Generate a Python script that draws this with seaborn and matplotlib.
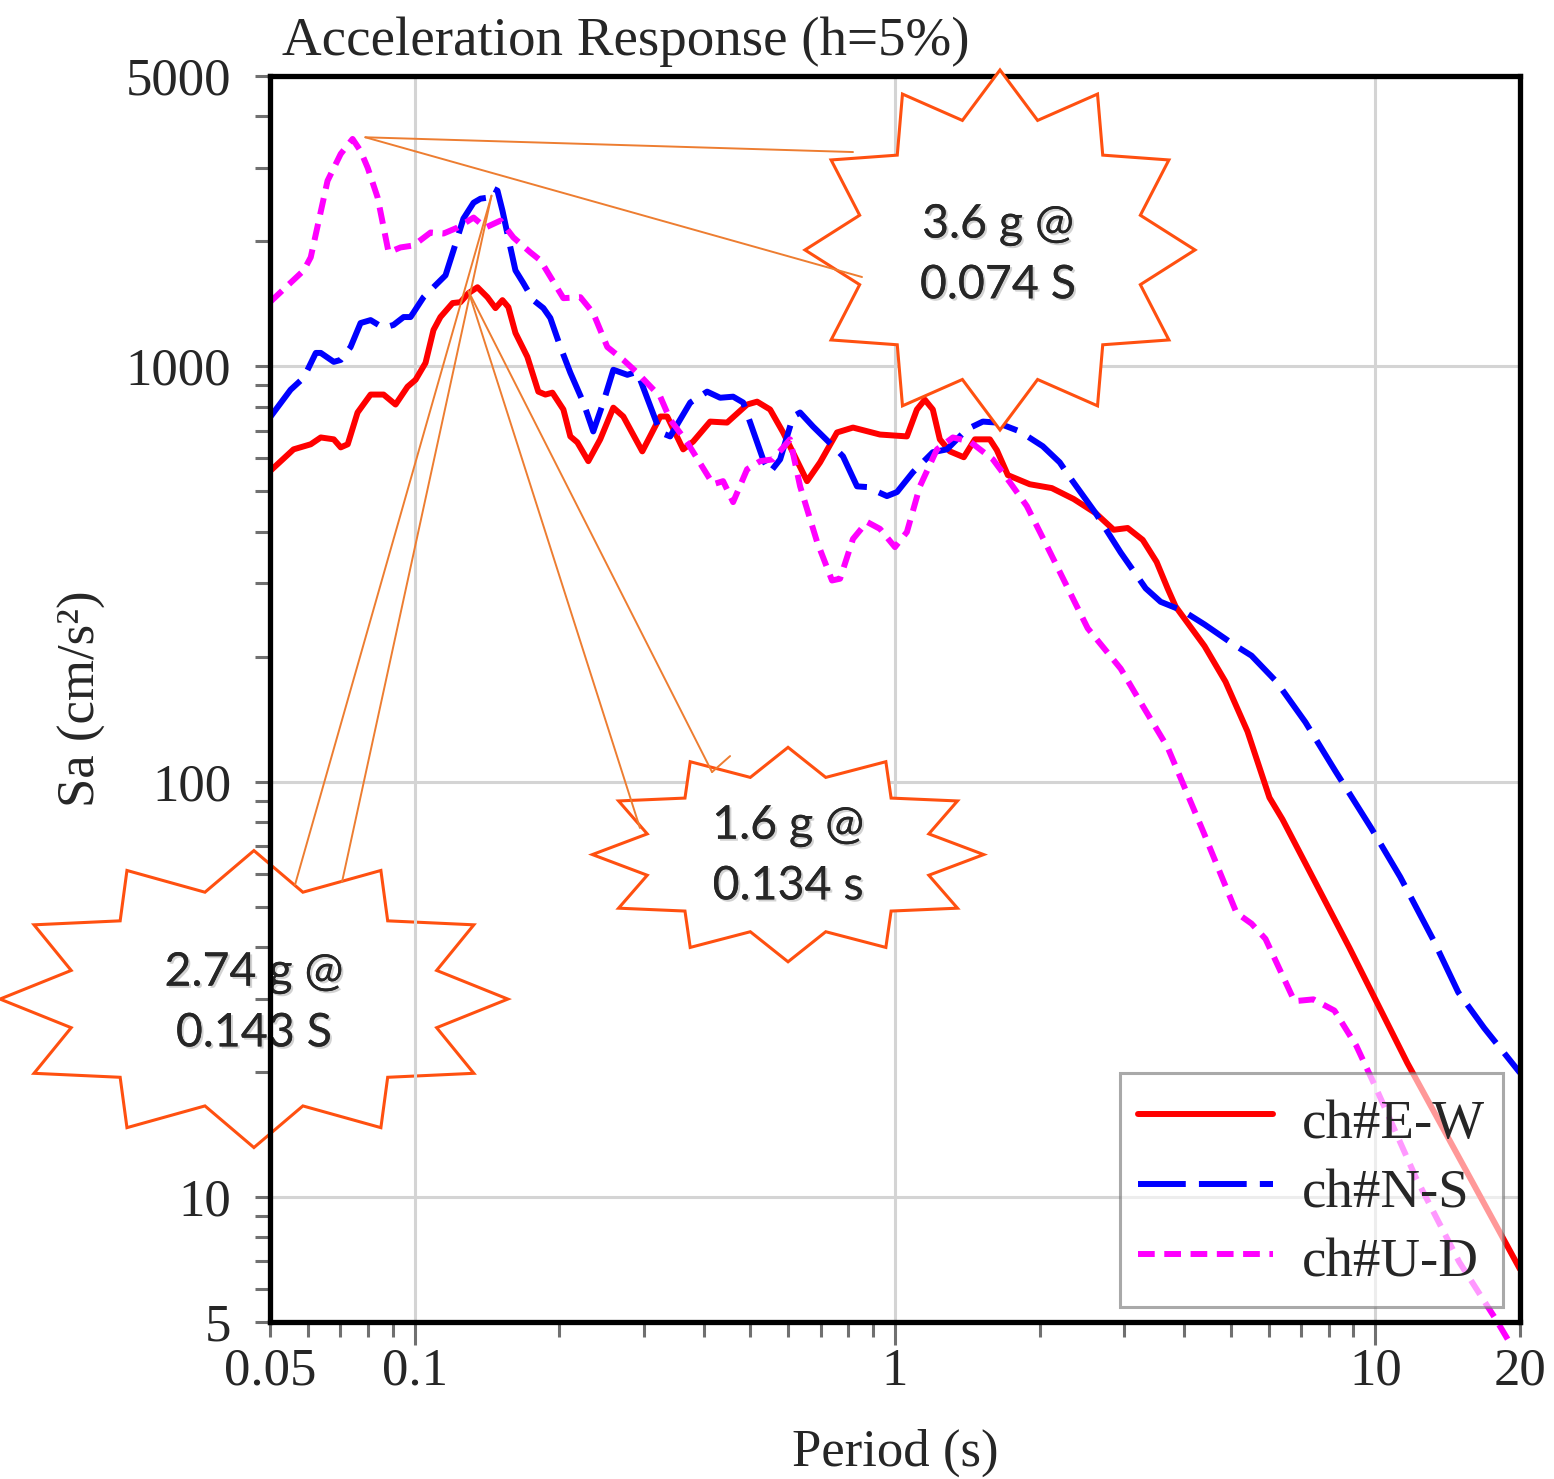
import numpy as np
import pandas as pd
import matplotlib
matplotlib.use("Agg")
import matplotlib.pyplot as plt
import matplotlib.patheffects as pe
from matplotlib.patches import Polygon, ConnectionPatch
from matplotlib.ticker import FixedLocator, NullFormatter
import seaborn as sns

# ---- data (period in s, Sa in cm/s^2) ----
CHANNELS = ["ch#E-W", "ch#N-S", "ch#U-D"]

ew_period = [0.050, 0.056, 0.0608, 0.0638, 0.0679, 0.0702, 0.0726, 0.0761, 0.081, 0.0862,
             0.0913, 0.0967, 0.1005, 0.1054, 0.1095, 0.1132, 0.12, 0.1246, 0.1295, 0.1352,
             0.1418, 0.1474, 0.1524, 0.1568, 0.1622, 0.1717, 0.181, 0.1872, 0.1936, 0.2041,
             0.211, 0.2182, 0.23, 0.2435, 0.2593, 0.272, 0.2979, 0.3247, 0.3357, 0.3624,
             0.3802, 0.4124, 0.4473, 0.4923, 0.5165, 0.5497, 0.5851, 0.6562, 0.6984, 0.7576,
             0.8178, 0.9308, 1.059, 1.111, 1.154, 1.199, 1.24, 1.301, 1.391, 1.467,
             1.576, 1.63, 1.718, 1.908, 2.121, 2.356, 2.617, 2.853, 3.051, 3.279,
             3.505, 3.694, 3.839, 4.41, 4.876, 5.419, 6.02, 6.408, 8.831, 11.66, 20.0]
ew_sa = [559, 631, 649, 674, 667, 638, 649, 774, 855, 855,
         809, 893, 928, 1019, 1223, 1314, 1420, 1427, 1500, 1550,
         1467, 1381, 1443, 1388, 1203, 1054, 869, 855, 864, 787,
         678, 656, 591, 667, 795, 757, 624, 757, 757, 631,
         659, 736, 732, 809, 822, 787, 693, 529, 587, 693,
         712, 685, 678, 787, 831, 787, 667, 624, 604, 667,
         667, 628, 547, 520, 509, 479, 443, 404, 408, 382,
         338, 292, 264, 212, 174, 132, 91.5, 81.1, 39.8, 21.0, 6.7]

ns_period = [0.050, 0.0552, 0.0588, 0.0623, 0.0638, 0.0679, 0.0702, 0.0736, 0.0772, 0.081,
             0.0862, 0.0904, 0.0949, 0.0981, 0.1044, 0.1095, 0.116, 0.1205, 0.1264, 0.1327,
             0.1372, 0.1418, 0.146, 0.1488, 0.1524, 0.1583, 0.1622, 0.1685, 0.1767, 0.1854,
             0.1917, 0.2012, 0.211, 0.2246, 0.2355, 0.2471, 0.2593, 0.2773, 0.2908, 0.3247,
             0.3405, 0.3749, 0.4065, 0.4327, 0.4604, 0.4831, 0.5316, 0.5497, 0.5768, 0.6137,
             0.6347, 0.6754, 0.7433, 0.7796, 0.8338, 0.8745, 0.9624, 1.01, 1.09, 1.199,
             1.283, 1.411, 1.524, 1.63, 1.819, 2.031, 2.203, 2.311, 2.617, 2.951,
             3.326, 3.573, 3.97, 4.41, 5.067, 5.524, 6.226, 7.152, 8.257, 9.81,
             11.27, 13.2, 14.88, 16.85, 20.0]
ns_sa = [753, 878, 939, 1077, 1077, 1025, 1036, 1113, 1271, 1292,
         1237, 1258, 1314, 1314, 1467, 1550, 1656, 1901, 2268, 2477,
         2533, 2547, 2677, 2648, 2371, 1933, 1702, 1585, 1443, 1381,
         1307, 1113, 965, 818, 697, 818, 981, 954, 970, 693,
         678, 818, 869, 840, 845, 818, 597, 556, 597, 757,
         774, 716, 642, 607, 514, 512, 487, 498, 556, 621,
         631, 705, 736, 732, 697, 642, 587, 541, 443, 356,
         292, 271, 258, 239, 214, 201, 174, 139, 106, 77.2,
         58.9, 41.6, 31.1, 25.5, 19.9]

ud_period = [0.050, 0.0588, 0.0608, 0.0659, 0.0702, 0.0743, 0.0772, 0.0799, 0.0838, 0.0883,
             0.0935, 0.0995, 0.108, 0.1149, 0.1229, 0.1327, 0.1405, 0.151, 0.1606, 0.1742,
             0.1828, 0.2041, 0.2214, 0.2355, 0.2519, 0.272, 0.2908, 0.3247, 0.3405, 0.3694,
             0.4183, 0.4388, 0.4604, 0.4923, 0.524, 0.5576, 0.6048, 0.6347, 0.6884, 0.7396,
             0.7687, 0.8178, 0.8745, 0.9308, 1.0, 1.059, 1.127, 1.223, 1.32, 1.432,
             1.599, 1.734, 1.881, 2.07, 2.203, 2.519, 2.951, 3.216, 3.694, 4.389,
             5.14, 5.524, 5.907, 6.786, 7.43, 8.219, 9.131, 10.05, 12.17, 14.95,
             17.84, 18.99]
ud_sa = [1427, 1702, 1830, 2797, 3247, 3527, 3300, 3005, 2547, 1881,
         1933, 1954, 2100, 2088, 2158, 2281, 2158, 2243, 2043, 1881,
         1799, 1459, 1467, 1343, 1113, 1036, 965, 845, 744, 656,
         520, 529, 471, 565, 591, 597, 667, 514, 378, 305,
         308, 384, 422, 406, 367, 399, 514, 631, 674, 659,
         597, 526, 461, 370, 320, 234, 187, 158, 121, 75.5,
         48.3, 45.5, 41.8, 29.6, 29.9, 28.1, 23.1, 18.2, 11.07, 6.97,
         5.06, 4.48]

# callout anchors (peaks) and their captions
peak_labels = ["3.6 g @\n0.074 S", "1.6 g @\n0.134 s", "2.74 g @\n0.143 S"]
peak_anchor = [(0.079, 3560), (0.1295, 1516), (0.1446, 2575)]

df = pd.concat([
    pd.DataFrame({"Period": ew_period, "Sa": ew_sa, "Channel": CHANNELS[0]}),
    pd.DataFrame({"Period": ns_period, "Sa": ns_sa, "Channel": CHANNELS[1]}),
    pd.DataFrame({"Period": ud_period, "Sa": ud_sa, "Channel": CHANNELS[2]}),
], ignore_index=True)

sns.set_style("white")
plt.rcParams["font.family"] = ["Liberation Serif", "DejaVu Serif"]

fig = plt.figure(figsize=(15.54, 14.79), dpi=100)
fig.patch.set_facecolor("white")
ax = fig.add_axes([0.1737, 0.1062, 0.8044, 0.8424])
ax.patch.set_facecolor("none")
ax.set_xscale("log")
ax.set_yscale("log")

sns.lineplot(data=df, x="Period", y="Sa", hue="Channel", style="Channel",
             hue_order=CHANNELS, style_order=CHANNELS,
             palette={"ch#E-W": "#ff0000", "ch#N-S": "#0000ff", "ch#U-D": "#ff00ff"},
             dashes={"ch#E-W": "", "ch#N-S": (8, 2.2), "ch#U-D": (2.8, 1.6)},
             linewidth=4.3, estimator=None, sort=False, legend=False, ax=ax)
# the vertical channel runs a little past the bottom frame in the original
ax.lines[2].set_clip_on(False)

ax.set_xlim(0.05, 20)
ax.set_ylim(5, 5000)

# ticks
ax.xaxis.set_major_locator(FixedLocator([0.05, 0.1, 1, 10, 20]))
ax.set_xticklabels(["0.05", "0.1", "1", "10", "20"])
xminor = [m * d for d in (0.01, 0.1, 1) for m in range(2, 10)]
ax.xaxis.set_minor_locator(FixedLocator([v for v in xminor if 0.05 < v < 20]))
ax.xaxis.set_minor_formatter(NullFormatter())
ax.yaxis.set_major_locator(FixedLocator([5, 10, 100, 1000, 5000]))
ax.set_yticklabels(["5", "10", "100", "1000", "5000"])
yminor = [m * d for d in (1, 10, 100, 1000) for m in range(2, 10)]
ax.yaxis.set_minor_locator(FixedLocator([v for v in yminor if 5 < v < 5000 and v not in (10, 100, 1000)]))
ax.yaxis.set_minor_formatter(NullFormatter())

ax.tick_params(axis="x", which="major", direction="out", bottom=True, length=16.5, width=2.2,
               color="#707070", pad=2, labelsize=38)
ax.tick_params(axis="x", which="minor", direction="out", bottom=True, length=10.8, width=2.2,
               color="#707070")
ax.tick_params(axis="y", which="both", direction="out", left=True, length=10.8, width=2.2,
               color="#707070", pad=17, labelsize=38)
xt = ax.xaxis.get_major_ticks()
xt[0].tick1line.set_markersize(10.8)
xt[-1].tick1line.set_markersize(10.8)

ax.grid(True, which="major", color="#d4d4d4", linewidth=2.2)
ax.set_axisbelow(True)
for s in ax.spines.values():
    s.set_color("black")
    s.set_linewidth(3.8)

ax.set_xlabel("Period (s)", fontsize=38, labelpad=24)
ax.set_ylabel("Sa (cm/s²)", fontsize=38, labelpad=14)
fig.text(0.1815, 0.9628, "Acceleration Response (h=5%)", fontsize=39.6, va="baseline", ha="left")

leg = ax.legend(ax.lines[:3], CHANNELS, loc="lower right", bbox_to_anchor=(0.9864, 0.012),
                borderaxespad=0, fontsize=39.5, handlelength=2.45, handleheight=1.2,
                handletextpad=0.53, labelspacing=0.2, borderpad=0.33, fancybox=False,
                framealpha=0.6, edgecolor="#707070")
leg.get_frame().set_linewidth(2.2)


# ---- starburst callouts ----
def star_points(cx, cy, rx, ry, n=12, inner=0.745):
    k = np.arange(2 * n)
    ang = np.pi / 2 - k * np.pi / n
    r = np.where(k % 2 == 0, 1.0, inner)
    return np.column_stack([cx + rx * r * np.cos(ang), cy + ry * r * np.sin(ang)])


star_geom = [(0.6435, 0.8310, 0.1255, 0.1217),   # top
             (0.5071, 0.4222, 0.1259, 0.0725),   # middle
             (0.1634, 0.3245, 0.1634, 0.1004)]   # left (sits under the axes)
star_z = [1, 1, -1]
text_pos = [(0.6422, 0.8276), (0.5071, 0.4212), (0.1634, 0.3218)]
shadow = [pe.withSimplePatchShadow(offset=(1.5, -1.5), shadow_rgbFace="#808080", alpha=0.35),
          pe.Normal()]

for (cx, cy, rx, ry), z, (tx, ty), lab in zip(star_geom, star_z, text_pos, peak_labels):
    poly = Polygon(star_points(cx, cy, rx, ry), closed=True, facecolor="white",
                   edgecolor="#ff5010", linewidth=2.2, transform=fig.transFigure, zorder=z)
    fig.add_artist(poly)
    fig.text(tx, ty, lab, ha="center", va="center", fontsize=33.5, family="Lato",
             linespacing=1.55, zorder=z + 0.5, path_effects=shadow)

callout_ends = [[(0.5489, 0.8972), (0.5547, 0.8127)],
                [(0.4118, 0.4402), (0.4582, 0.4780)],
                [(0.1898, 0.4016), (0.2201, 0.4037)]]
for anchor, ends in zip(peak_anchor, callout_ends):
    for end in ends:
        cp = ConnectionPatch(xyA=anchor, coordsA=ax.transData, xyB=end,
                             coordsB=fig.transFigure, color="#ed7d31", linewidth=1.4, zorder=3)
        fig.add_artist(cp)
# short stub on the middle callout
stub = ConnectionPatch(xyA=(0.4582, 0.4780), coordsA=fig.transFigure, xyB=(0.4698, 0.4888),
                       coordsB=fig.transFigure, color="#ed7d31", linewidth=1.4, zorder=3)
fig.add_artist(stub)

fig.savefig("out.png", dpi=100)
